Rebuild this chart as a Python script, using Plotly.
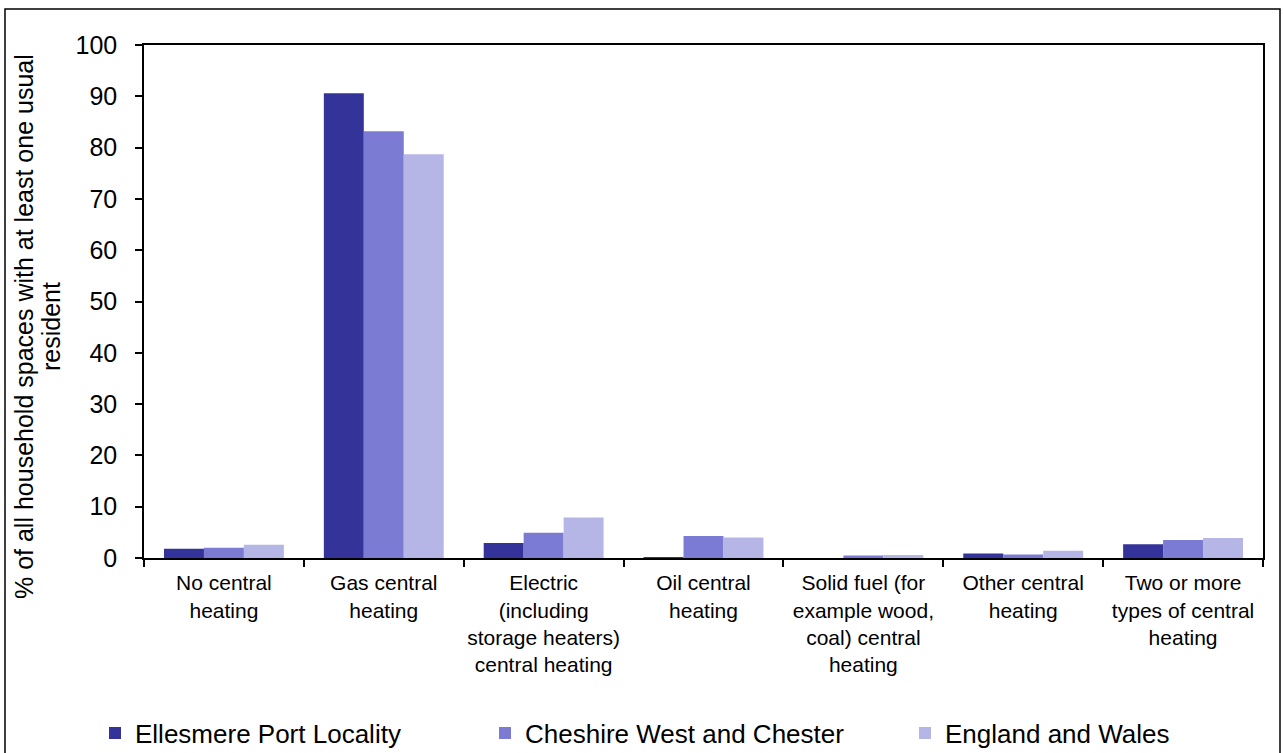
import plotly.graph_objects as go

categories = ["No central<br>heating", "Gas central<br>heating",
              "Electric<br>(including<br>storage heaters)<br>central heating",
              "Oil central<br>heating",
              "Solid fuel (for<br>example wood,<br>coal) central<br>heating",
              "Other central<br>heating", "Two or more<br>types of central<br>heating"]
series_names = ["Ellesmere Port Locality", "Cheshire West and Chester", "England and Wales"]
ellesmere = [1.8, 90.6, 2.9, 0.1, 0.0, 0.9, 2.7]
cheshire = [2.0, 83.2, 4.9, 4.3, 0.5, 0.7, 3.5]
england = [2.6, 78.7, 7.9, 4.0, 0.6, 1.4, 3.9]
colors = ["#333399", "#7b7bd3", "#b6b6e6"]
y_ticks = [0, 10, 20, 30, 40, 50, 60, 70, 80, 90, 100]

L, R, T, B = 144, 1263, 45, 558
W, H = R - L, B - T
def px(x):
    return (x - L) / W
def py(y):
    return (B - y) / H

legend_names = ["legend", "legend2", "legend3"]
legend_x = [95, 485, 905]

fig = go.Figure()
for name, vals, c, lg in zip(series_names, [ellesmere, cheshire, england], colors, legend_names):
    fig.add_trace(go.Bar(x=categories, y=vals, name=name, marker_color=c,
                         marker_line_width=0, legend=lg))

legend_common = dict(orientation="h", xanchor="left", yanchor="middle",
                     font=dict(size=26), bgcolor="rgba(0,0,0,0)", borderwidth=0)
layout_legends = {}
for lg, lx in zip(legend_names, legend_x):
    layout_legends[lg] = dict(legend_common, x=px(lx), y=py(733))

fig.update_layout(
    width=1283, height=753,
    margin=dict(l=L, r=1283 - R, t=T, b=753 - B, autoexpand=False),
    paper_bgcolor="white", plot_bgcolor="white",
    barmode="group", bargap=0.25, bargroupgap=0,
    font=dict(family="Liberation Sans, Arial", color="black"),
    showlegend=True,
    xaxis=dict(showline=True, linecolor="black", linewidth=2, mirror=True,
               ticks="outside", tickson="boundaries", ticklen=7, tickcolor="black",
               tickwidth=1.5, tickfont=dict(size=21), showgrid=False,
               tickangle=0, automargin=False, ticklabelstandoff=5),
    yaxis=dict(range=[0, 100], tickvals=y_ticks, showline=True, linecolor="black",
               linewidth=1.5, mirror=True, ticks="outside", ticklen=7, tickcolor="black",
               tickwidth=1.5, tickfont=dict(size=25), showgrid=False, zeroline=False,
               automargin=False, ticklabelstandoff=13),
    shapes=[dict(type="rect", xref="paper", yref="paper",
                 x0=px(5), x1=px(1280), y0=py(770), y1=py(9),
                 line=dict(color="black", width=1.5), fillcolor="rgba(0,0,0,0)")],
    annotations=[
        dict(text="% of all household spaces with at least one usual",
             xref="paper", yref="paper", x=px(24), y=py(327),
             textangle=-90, showarrow=False, font=dict(size=25),
             xanchor="center", yanchor="middle"),
        dict(text="resident",
             xref="paper", yref="paper", x=px(51), y=py(327),
             textangle=-90, showarrow=False, font=dict(size=25),
             xanchor="center", yanchor="middle"),
    ],
    **layout_legends,
)

fig.write_html("out.html", config={"displayModeBar": False},
               post_script="document.body.style.margin='0';")
